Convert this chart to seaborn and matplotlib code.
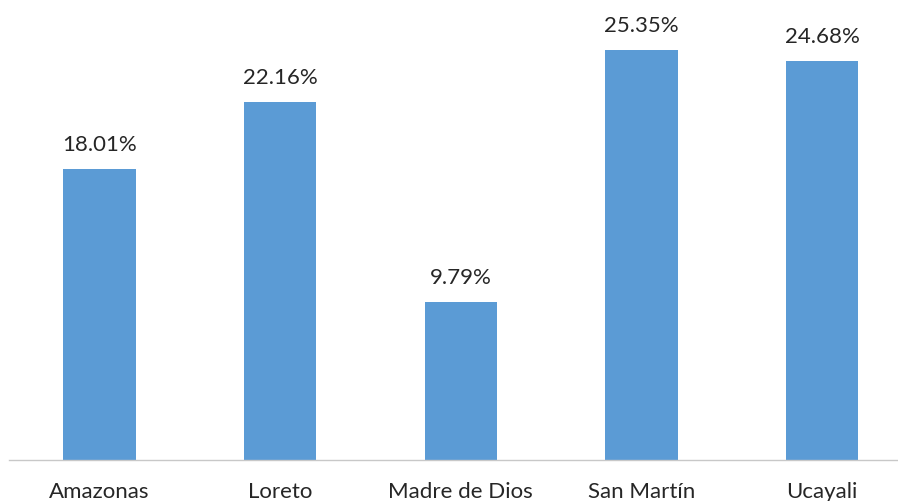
import matplotlib
matplotlib.use("Agg")
import matplotlib.pyplot as plt
import seaborn as sns
import pandas as pd

regions = ["Amazonas", "Loreto", "Madre de Dios", "San Martín", "Ucayali"]
values = [18.01, 22.16, 9.79, 25.35, 24.68]
labels = ["18.01%", "22.16%", "9.79%", "25.35%", "24.68%"]

sns.set_theme(style="white")
plt.rcParams["font.family"] = ["Lato", "DejaVu Sans"]

df = pd.DataFrame({"region": regions, "value": values})

fig = plt.figure(figsize=(8.98, 5.02), dpi=100)
ax = fig.add_axes([9.15 / 898, 41 / 502, 903.4 / 898, 461 / 502])
sns.barplot(data=df, x="region", y="value", hue="region", palette=["#5B9BD5"] * 5,
            width=0.4, legend=False, ax=ax, saturation=1, linewidth=0)

ax.set_ylim(0, 28.5)
ax.set_xlim(-0.5, 4.5)
for i, (v, lab) in enumerate(zip(values, labels)):
    ax.annotate(lab, (i, v), xytext=(0, 18), textcoords="offset points",
                ha="center", va="center", fontsize=16, color="#262626")

for s in ["top", "left", "right"]:
    ax.spines[s].set_visible(False)
ax.spines["bottom"].set_color("#C8C8C8")
ax.spines["bottom"].set_linewidth(1.0)
ax.set_yticks([])
ax.set_xlabel("")
ax.set_ylabel("")
ax.tick_params(axis="x", length=0, pad=15, labelsize=16, labelcolor="#262626")

fig.savefig("out.png", dpi=100)
